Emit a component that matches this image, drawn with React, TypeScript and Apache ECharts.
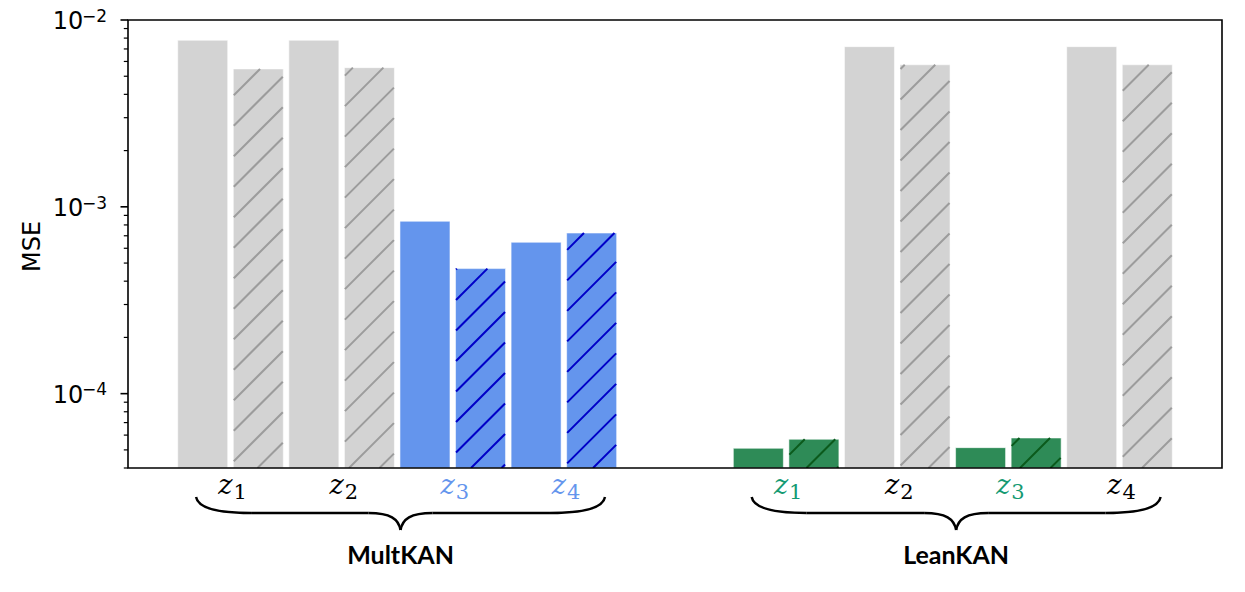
import React, { useEffect, useRef } from 'react';
import * as echarts from 'echarts';

// ---------------- data ----------------
const groups = ['MultKAN', 'LeanKAN'];
const subscripts = ['1', '2', '3', '4'];
const multSolid = [7.79e-3, 7.79e-3, 8.37e-4, 6.46e-4];
const multHatched = [5.47e-3, 5.56e-3, 4.67e-4, 7.24e-4];
const leanSolid = [5.1e-5, 7.2e-3, 5.14e-5, 7.2e-3];
const leanHatched = [5.7e-5, 5.76e-3, 5.79e-5, 5.76e-3];
const multHighlight = [false, false, true, true];
const leanHighlight = [true, false, true, false];
const yMin = 4e-5;
const yMax = 1e-2;
const yTickExponents = [-4, -3, -2];
const yAxisTitle = 'MSE';

// ---------------- styles ----------------
const GRAY = { fill: '#d3d3d3', hatch: '#9c9c9c', label: '#000000' };
const BLUE = { fill: '#6495ed', hatch: '#0000c8', label: '#6495ed' };
const GREEN = { fill: '#2e8b57', hatch: '#0b5a1c', label: '#159a72' };

const BAR_W = 0.45;
const BAR_OFF = 0.25;
const GROUP_STRIDE = 5;
const HATCH_P = 30.5;
const HATCH_PHASE = 24;

type Bar = { x: number; value: number; fill: string; hatch: string | null };

const groupSolid = [multSolid, leanSolid];
const groupHatched = [multHatched, leanHatched];
const groupHighlight = [multHighlight, leanHighlight];
const groupTheme = [BLUE, GREEN];

const bars: Bar[] = [];
groups.forEach((_, g) => {
  subscripts.forEach((__, i) => {
    const pos = g * GROUP_STRIDE + i;
    const th = groupHighlight[g][i] ? groupTheme[g] : GRAY;
    bars.push({ x: pos - BAR_OFF, value: groupSolid[g][i], fill: th.fill, hatch: null });
    bars.push({ x: pos + BAR_OFF, value: groupHatched[g][i], fill: th.fill, hatch: th.hatch });
  });
});

const renderItem = (params: any, api: any) => {
  const b = bars[params.dataIndex];
  const x = api.value(0);
  const v = api.value(1);
  const p1 = api.coord([x - BAR_W / 2, v]);
  const p2 = api.coord([x + BAR_W / 2, yMin]);
  const x0 = p1[0], y0 = p1[1], x1 = p2[0], y1 = p2[1];
  const children: any[] = [
    {
      type: 'rect',
      shape: { x: x0, y: y0, width: x1 - x0, height: y1 - y0 },
      style: { fill: b.fill, stroke: 'rgba(255,255,255,0.55)', lineWidth: 1 },
    },
  ];
  if (b.hatch) {
    const start = Math.ceil((x0 + y0 - HATCH_PHASE) / HATCH_P) * HATCH_P + HATCH_PHASE;
    for (let c = start; c < x1 + y1; c += HATCH_P) {
      const xa = Math.max(x0 + 0.5, c - y1);
      const xb = Math.min(x1 - 0.5, c - y0);
      if (xb - xa < 0.8) continue;
      children.push({
        type: 'line',
        shape: { x1: xa, y1: c - xa, x2: xb, y2: c - xb },
        style: { stroke: b.hatch, lineWidth: 2 },
      });
    }
  }
  return { type: 'group', children };
};

export default function App() {
  const ref = useRef<HTMLDivElement>(null);
  useEffect(() => {
    if (!ref.current) return;
    const chart = echarts.init(ref.current, null, { renderer: 'svg' });
    const xMin = -BAR_OFF - BAR_W / 2 - 0.4475;
    const xMax = (groups.length - 1) * GROUP_STRIDE + subscripts.length - 1 + BAR_OFF + BAR_W / 2 + 0.4475;
    chart.setOption({
      animation: false,
      backgroundColor: '#ffffff',
      grid: { left: 128, right: 23, top: 20, bottom: 124 },
      xAxis: {
        type: 'value',
        min: xMin,
        max: xMax,
        axisLine: { show: false },
        axisTick: { show: false },
        axisLabel: { show: false },
        splitLine: { show: false },
      },
      yAxis: {
        type: 'log',
        logBase: 10,
        min: yMin,
        max: yMax,
        axisLine: { show: false },
        axisTick: { show: false },
        splitLine: { show: false },
        axisLabel: { show: false },
      },
      series: [
        {
          type: 'custom',
          renderItem,
          clip: true,
          data: bars.map((b) => [b.x, b.value]),
        },
      ],
    });

    const toPx = (x: number, y: number) => chart.convertToPixel({ gridIndex: 0 } as any, [x, y]) as number[];
    const tl = toPx(xMin, yMax);
    const br = toPx(xMax, yMin);
    const gl = tl[0];
    const graphics: any[] = [];

    // frame
    graphics.push({
      type: 'rect',
      z: 100,
      shape: { x: tl[0], y: tl[1], width: br[0] - tl[0], height: br[1] - tl[1] },
      style: { fill: 'none', stroke: '#000', lineWidth: 1.6 },
    });

    // y ticks (major + minor)
    for (let e = -5; e <= -2; e++) {
      for (let k = 1; k <= 9; k++) {
        const v = k * Math.pow(10, e);
        if (v < yMin * 0.999 || v > yMax * 1.001) continue;
        const py = toPx(xMin, v)[1];
        const major = k === 1;
        graphics.push({
          type: 'line',
          z: 100,
          shape: { x1: gl - (major ? 7.5 : 4.2), y1: py, x2: gl, y2: py },
          style: { stroke: '#000', lineWidth: major ? 1.6 : 1.2 },
        });
      }
    }

    // y tick labels 10^e
    yTickExponents.forEach((e) => {
      const py = toPx(xMin, Math.pow(10, e))[1];
      graphics.push({
        type: 'text',
        x: gl - 44.7,
        y: py + 1,
        style: { text: '10', fontFamily: 'DejaVu Sans', fontSize: 24, fill: '#000', align: 'right', verticalAlign: 'middle' },
      });
      graphics.push({
        type: 'text',
        x: gl - 46,
        y: py - 4.3,
        style: { text: '\u2212' + Math.abs(e), fontFamily: 'DejaVu Sans', fontSize: 17, fill: '#000', align: 'left', verticalAlign: 'middle' },
      });
    });

    // y axis title
    graphics.push({
      type: 'text',
      x: 31.5,
      y: (tl[1] + br[1]) / 2 + 2.5,
      rotation: Math.PI / 2,
      style: { text: yAxisTitle, fontFamily: 'DejaVu Sans', fontSize: 24, fill: '#000', align: 'center', verticalAlign: 'middle' },
    });

    // x labels, braces, group names
    groups.forEach((name, g) => {
      subscripts.forEach((sub, i) => {
        const pos = g * GROUP_STRIDE + i;
        const cx = toPx(pos, yMin)[0];
        const col = groupHighlight[g][i] ? groupTheme[g].label : GRAY.label;
        graphics.push({
          type: 'text',
          x: cx + 2,
          y: 484,
          style: {
            text: 'z',
            fontFamily: 'DejaVu Serif',
            fontStyle: 'italic',
            fontSize: 27,
            fill: col,
            align: 'right',
            verticalAlign: 'middle',
          },
        });
        graphics.push({
          type: 'text',
          x: cx + 3,
          y: 492,
          style: {
            text: sub,
            fontFamily: 'DejaVu Serif',
            fontSize: 21,
            fill: col,
            align: 'left',
            verticalAlign: 'middle',
          },
        });
      });
      const L = toPx(g * GROUP_STRIDE - 0.31, yMin)[0];
      const R = toPx(g * GROUP_STRIDE + subscripts.length - 1 + 0.37, yMin)[0];
      const C = (L + R) / 2;
      const yt = 497, yf = 513, yc = 530;
      const st = { stroke: '#000', lineWidth: 2.5, fill: 'none' };
      graphics.push(
        { type: 'bezierCurve', shape: { x1: L, y1: yt, cpx1: L + 2, cpy1: yt + 11, cpx2: L + 20, cpy2: yf, x2: L + 55, y2: yf }, style: st },
        { type: 'line', shape: { x1: L + 55, y1: yf, x2: C - 32, y2: yf }, style: st },
        { type: 'bezierCurve', shape: { x1: C - 32, y1: yf, cpx1: C - 10, cpy1: yf, cpx2: C - 2, cpy2: yf + 6, x2: C, y2: yc }, style: st },
        { type: 'bezierCurve', shape: { x1: C, y1: yc, cpx1: C + 2, cpy1: yf + 6, cpx2: C + 10, cpy2: yf, x2: C + 32, y2: yf }, style: st },
        { type: 'line', shape: { x1: C + 32, y1: yf, x2: R - 55, y2: yf }, style: st },
        { type: 'bezierCurve', shape: { x1: R - 55, y1: yf, cpx1: R - 20, cpy1: yf, cpx2: R - 2, cpy2: yt + 11, x2: R, y2: yt }, style: st },
      );
      graphics.push({
        type: 'text',
        x: C,
        y: 554,
        style: {
          text: name,
          fontFamily: 'Lato',
          fontWeight: 'bold',
          fontSize: 25,
          fill: '#000',
          align: 'center',
          verticalAlign: 'middle',
        },
      });
    });

    chart.setOption({ graphic: graphics });
    return () => chart.dispose();
  }, []);
  return <div ref={ref} style={{ position: 'absolute', left: 0, top: 0, width: 1245, height: 592 }} />;
}
